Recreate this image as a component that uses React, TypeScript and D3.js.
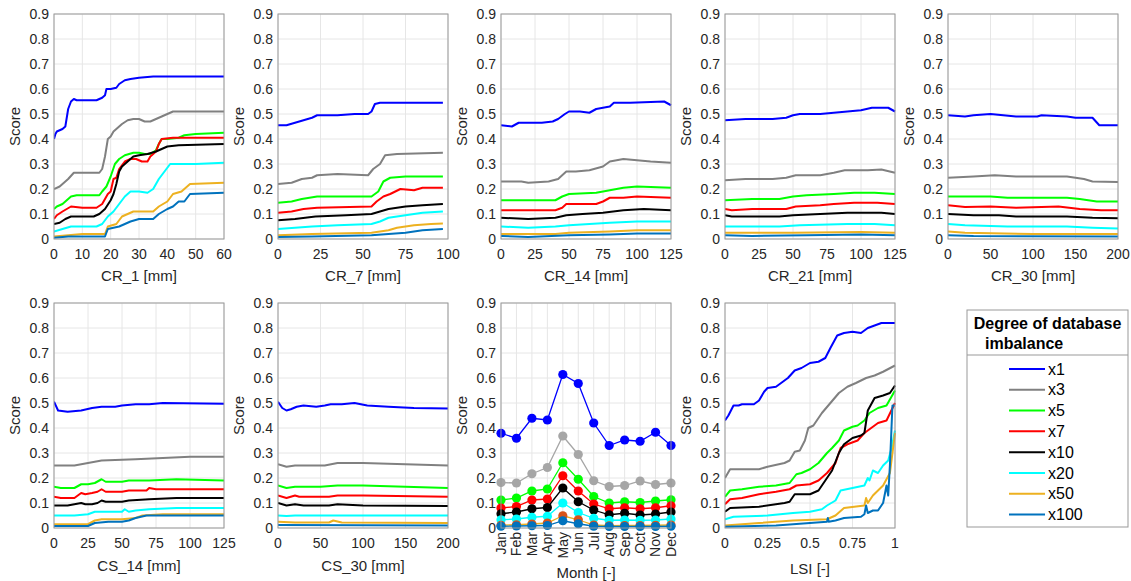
import React from 'react';
import * as d3 from 'd3';

type P = [number, number][];

const SERIES = ['x1', 'x3', 'x5', 'x7', 'x10', 'x20', 'x50', 'x100'];
const COLORS = ['#0000FF', '#808080', '#00FF00', '#FF0000', '#000000', '#00FFFF', '#EDB120', '#0072BD'];
const MARKER_COLORS = ['#0000FF', '#A6A6A6', '#00FF00', '#FF0000', '#000000', '#00FFFF', '#D95319', '#0072BD'];
const Y_TICKS = [0, 0.1, 0.2, 0.3, 0.4, 0.5, 0.6, 0.7, 0.8, 0.9];
const MONTHS = ['Jan', 'Feb', 'Mar', 'Apr', 'May', 'Jun', 'Jul', 'Aug', 'Sep', 'Oct', 'Nov', 'Dec'];

// CR_1 [mm]
const CR1: P[] = [
  [[0, 0.40], [0.5, 0.42], [1, 0.43], [3, 0.44], [4, 0.45], [5, 0.52], [6, 0.55], [7, 0.56], [8, 0.555], [15, 0.555], [17, 0.565], [18, 0.575], [18.5, 0.60], [20, 0.60], [22, 0.605], [23, 0.62], [25, 0.635], [27, 0.64], [30, 0.645], [35, 0.65], [60, 0.65]],
  [[0, 0.20], [2, 0.21], [5, 0.24], [7, 0.265], [16, 0.265], [17, 0.28], [18, 0.33], [19, 0.40], [20, 0.41], [21, 0.43], [22, 0.44], [24, 0.46], [26, 0.475], [28, 0.48], [30, 0.48], [32, 0.47], [34, 0.47], [36, 0.48], [38, 0.49], [40, 0.50], [42, 0.51], [60, 0.51]],
  [[0, 0.12], [1, 0.13], [3, 0.14], [6, 0.17], [8, 0.175], [16, 0.175], [17, 0.19], [18.5, 0.21], [20, 0.25], [21.5, 0.30], [23, 0.32], [25, 0.335], [28, 0.345], [30, 0.345], [32, 0.34], [34, 0.34], [36, 0.355], [37, 0.38], [38, 0.40], [40, 0.40], [44, 0.405], [46, 0.415], [50, 0.42], [60, 0.425]],
  [[0, 0.08], [1, 0.095], [3, 0.11], [6, 0.13], [10, 0.125], [15, 0.125], [17, 0.14], [19, 0.18], [20, 0.19], [21, 0.24], [22, 0.245], [23, 0.28], [25, 0.31], [27, 0.32], [29, 0.32], [31, 0.31], [33, 0.31], [34, 0.33], [36, 0.35], [37, 0.38], [38, 0.40], [42, 0.405], [60, 0.405]],
  [[0, 0.06], [2, 0.065], [4, 0.08], [6, 0.09], [14, 0.09], [16, 0.10], [18, 0.12], [20, 0.155], [21, 0.18], [22, 0.22], [23, 0.27], [24, 0.29], [26, 0.31], [28, 0.33], [30, 0.335], [33, 0.34], [36, 0.35], [38, 0.36], [40, 0.37], [44, 0.375], [60, 0.38]],
  [[0, 0.03], [3, 0.04], [6, 0.05], [15, 0.05], [17, 0.06], [19, 0.09], [21, 0.11], [23, 0.14], [25, 0.17], [27, 0.19], [30, 0.19], [33, 0.185], [35, 0.20], [37, 0.24], [39, 0.27], [41, 0.30], [50, 0.30], [60, 0.305]],
  [[0, 0.01], [5, 0.015], [10, 0.02], [18, 0.02], [19, 0.05], [22, 0.06], [24, 0.09], [26, 0.10], [28, 0.11], [35, 0.11], [37, 0.13], [40, 0.15], [42, 0.18], [45, 0.19], [48, 0.22], [60, 0.225]],
  [[0, 0.005], [5, 0.01], [18, 0.01], [19, 0.04], [23, 0.05], [25, 0.06], [27, 0.07], [30, 0.08], [35, 0.08], [37, 0.10], [40, 0.12], [42, 0.13], [44, 0.15], [46, 0.15], [48, 0.18], [60, 0.185]],
];

// CR_7 [mm]
const CR7: P[] = [
  [[0, 0.455], [5, 0.455], [10, 0.465], [15, 0.475], [20, 0.485], [23, 0.495], [35, 0.495], [45, 0.50], [53, 0.50], [55, 0.51], [57, 0.54], [60, 0.545], [97, 0.545]],
  [[0, 0.22], [8, 0.225], [14, 0.24], [20, 0.245], [23, 0.255], [35, 0.26], [53, 0.255], [56, 0.28], [60, 0.30], [63, 0.335], [70, 0.34], [97, 0.345]],
  [[0, 0.145], [8, 0.15], [14, 0.16], [23, 0.17], [55, 0.17], [59, 0.19], [62, 0.23], [66, 0.245], [75, 0.25], [97, 0.25]],
  [[0, 0.105], [8, 0.11], [15, 0.12], [23, 0.125], [55, 0.13], [58, 0.15], [62, 0.17], [66, 0.18], [72, 0.20], [80, 0.195], [85, 0.205], [97, 0.205]],
  [[0, 0.075], [10, 0.08], [22, 0.09], [40, 0.095], [55, 0.10], [60, 0.11], [65, 0.12], [75, 0.13], [85, 0.135], [97, 0.14]],
  [[0, 0.04], [10, 0.045], [20, 0.05], [35, 0.055], [55, 0.06], [60, 0.07], [65, 0.085], [75, 0.095], [85, 0.105], [97, 0.11]],
  [[0, 0.015], [20, 0.02], [55, 0.025], [65, 0.035], [70, 0.045], [80, 0.055], [90, 0.06], [97, 0.062]],
  [[0, 0.008], [20, 0.01], [55, 0.015], [65, 0.02], [75, 0.025], [85, 0.035], [97, 0.04]],
];

// CR_14 [mm]
const CR14: P[] = [
  [[0, 0.455], [8, 0.45], [13, 0.465], [30, 0.465], [38, 0.47], [42, 0.48], [47, 0.50], [50, 0.51], [58, 0.51], [65, 0.505], [70, 0.52], [75, 0.525], [80, 0.53], [83, 0.545], [95, 0.545], [120, 0.55], [125, 0.535]],
  [[0, 0.23], [15, 0.23], [20, 0.225], [35, 0.23], [42, 0.24], [48, 0.27], [55, 0.27], [65, 0.275], [75, 0.29], [80, 0.31], [90, 0.32], [100, 0.315], [110, 0.31], [125, 0.305]],
  [[0, 0.155], [40, 0.155], [45, 0.17], [50, 0.18], [70, 0.185], [80, 0.195], [90, 0.205], [100, 0.21], [125, 0.205]],
  [[0, 0.115], [40, 0.115], [45, 0.125], [48, 0.14], [70, 0.14], [75, 0.15], [80, 0.165], [90, 0.165], [100, 0.17], [125, 0.165]],
  [[0, 0.085], [20, 0.08], [40, 0.085], [48, 0.095], [60, 0.10], [75, 0.105], [90, 0.115], [105, 0.12], [125, 0.115]],
  [[0, 0.05], [20, 0.045], [40, 0.05], [50, 0.055], [65, 0.06], [80, 0.065], [100, 0.07], [125, 0.07]],
  [[0, 0.02], [40, 0.02], [50, 0.025], [80, 0.03], [100, 0.035], [125, 0.035]],
  [[0, 0.012], [20, 0.008], [50, 0.015], [80, 0.018], [100, 0.022], [125, 0.022]],
];

// CR_21 [mm]
const CR21: P[] = [
  [[0, 0.475], [15, 0.48], [35, 0.48], [45, 0.485], [50, 0.495], [55, 0.50], [70, 0.50], [80, 0.505], [90, 0.51], [100, 0.515], [108, 0.525], [120, 0.525], [125, 0.51]],
  [[0, 0.235], [15, 0.24], [35, 0.24], [45, 0.245], [52, 0.255], [70, 0.255], [80, 0.265], [88, 0.275], [105, 0.275], [115, 0.278], [125, 0.265]],
  [[0, 0.155], [20, 0.16], [40, 0.16], [50, 0.17], [60, 0.175], [80, 0.18], [95, 0.185], [110, 0.185], [125, 0.18]],
  [[0, 0.12], [5, 0.115], [20, 0.12], [45, 0.12], [52, 0.13], [70, 0.135], [80, 0.14], [95, 0.145], [112, 0.145], [125, 0.14]],
  [[0, 0.095], [5, 0.09], [40, 0.09], [50, 0.095], [70, 0.10], [90, 0.105], [115, 0.105], [125, 0.10]],
  [[0, 0.05], [40, 0.05], [55, 0.055], [90, 0.06], [110, 0.06], [125, 0.055]],
  [[0, 0.025], [50, 0.025], [100, 0.028], [125, 0.025]],
  [[0, 0.015], [20, 0.012], [60, 0.015], [100, 0.018], [125, 0.015]],
];

// CR_30 [mm]
const CR30: P[] = [
  [[0, 0.495], [20, 0.49], [30, 0.495], [50, 0.50], [65, 0.495], [80, 0.49], [105, 0.49], [110, 0.495], [140, 0.49], [150, 0.485], [170, 0.485], [178, 0.455], [200, 0.455]],
  [[0, 0.245], [30, 0.25], [55, 0.255], [80, 0.25], [140, 0.25], [160, 0.24], [170, 0.23], [200, 0.228]],
  [[0, 0.17], [50, 0.17], [70, 0.165], [140, 0.165], [155, 0.16], [175, 0.15], [200, 0.15]],
  [[0, 0.135], [20, 0.128], [50, 0.13], [80, 0.125], [130, 0.13], [155, 0.12], [180, 0.115], [200, 0.115]],
  [[0, 0.10], [30, 0.095], [60, 0.095], [80, 0.09], [140, 0.09], [170, 0.085], [200, 0.083]],
  [[0, 0.06], [20, 0.055], [70, 0.05], [140, 0.05], [170, 0.045], [200, 0.042]],
  [[0, 0.03], [20, 0.025], [100, 0.02], [200, 0.02]],
  [[0, 0.015], [30, 0.012], [200, 0.01]],
];

// CS_14 [mm]
const CS14: P[] = [
  [[0, 0.505], [3, 0.47], [10, 0.465], [20, 0.47], [28, 0.48], [35, 0.485], [45, 0.485], [50, 0.49], [60, 0.495], [70, 0.495], [80, 0.50], [125, 0.497]],
  [[0, 0.25], [15, 0.25], [25, 0.26], [35, 0.27], [60, 0.275], [80, 0.28], [100, 0.285], [125, 0.285]],
  [[0, 0.165], [5, 0.16], [15, 0.16], [20, 0.175], [25, 0.175], [30, 0.18], [35, 0.195], [38, 0.185], [50, 0.185], [55, 0.19], [70, 0.19], [90, 0.195], [125, 0.19]],
  [[0, 0.125], [5, 0.12], [15, 0.12], [20, 0.14], [23, 0.135], [28, 0.14], [32, 0.145], [35, 0.155], [38, 0.145], [50, 0.145], [55, 0.15], [68, 0.15], [70, 0.16], [75, 0.155], [125, 0.155]],
  [[0, 0.09], [10, 0.09], [15, 0.095], [20, 0.10], [23, 0.095], [28, 0.095], [32, 0.10], [35, 0.11], [38, 0.105], [50, 0.105], [55, 0.11], [70, 0.115], [90, 0.12], [125, 0.12]],
  [[0, 0.05], [15, 0.05], [25, 0.055], [30, 0.065], [50, 0.065], [52, 0.075], [55, 0.065], [60, 0.07], [70, 0.075], [90, 0.08], [125, 0.08]],
  [[0, 0.015], [25, 0.015], [30, 0.03], [35, 0.035], [50, 0.035], [60, 0.04], [65, 0.05], [80, 0.055], [125, 0.055]],
  [[0, 0.008], [25, 0.008], [30, 0.02], [40, 0.025], [50, 0.025], [55, 0.03], [60, 0.04], [68, 0.05], [125, 0.05]],
];

// CS_30 [mm]
const CS30: P[] = [
  [[0, 0.505], [5, 0.48], [10, 0.47], [15, 0.475], [22, 0.485], [30, 0.49], [45, 0.485], [55, 0.49], [62, 0.495], [75, 0.495], [90, 0.50], [105, 0.49], [130, 0.485], [160, 0.48], [200, 0.478]],
  [[0, 0.255], [10, 0.245], [20, 0.25], [55, 0.25], [70, 0.26], [100, 0.26], [150, 0.255], [200, 0.25]],
  [[0, 0.17], [10, 0.16], [20, 0.165], [50, 0.165], [70, 0.17], [100, 0.17], [150, 0.165], [200, 0.16]],
  [[0, 0.13], [10, 0.12], [20, 0.13], [25, 0.125], [60, 0.125], [70, 0.13], [100, 0.13], [200, 0.125]],
  [[0, 0.10], [10, 0.09], [20, 0.095], [30, 0.09], [60, 0.09], [70, 0.095], [100, 0.09], [200, 0.088]],
  [[0, 0.05], [10, 0.048], [20, 0.05], [200, 0.05]],
  [[0, 0.025], [20, 0.022], [60, 0.022], [65, 0.03], [75, 0.022], [200, 0.02]],
  [[0, 0.012], [200, 0.01]],
];

// Month [-]
const MONTH_X1 = [0.379, 0.359, 0.439, 0.432, 0.614, 0.578, 0.42, 0.33, 0.352, 0.347, 0.383, 0.33];
const MONTH_X3 = [0.182, 0.18, 0.217, 0.242, 0.368, 0.294, 0.189, 0.166, 0.17, 0.188, 0.174, 0.18];
const MONTH_X5 = [0.112, 0.12, 0.148, 0.156, 0.261, 0.195, 0.126, 0.1, 0.105, 0.102, 0.108, 0.113];
const MONTH_X7 = [0.08, 0.086, 0.112, 0.116, 0.209, 0.148, 0.096, 0.077, 0.081, 0.077, 0.081, 0.089];
const MONTH_X10 = [0.057, 0.064, 0.077, 0.082, 0.16, 0.105, 0.072, 0.053, 0.059, 0.052, 0.056, 0.064];
const MONTH_X20 = [0.033, 0.036, 0.043, 0.047, 0.1, 0.062, 0.039, 0.031, 0.032, 0.031, 0.032, 0.036];
const MONTH_X50 = [0.011, 0.013, 0.016, 0.02, 0.049, 0.033, 0.012, 0.009, 0.01, 0.01, 0.011, 0.012];
const MONTH_X100 = [0.007, 0.008, 0.009, 0.01, 0.029, 0.017, 0.007, 0.006, 0.006, 0.006, 0.006, 0.007];
const MONTH_SERIES = [MONTH_X1, MONTH_X3, MONTH_X5, MONTH_X7, MONTH_X10, MONTH_X20, MONTH_X50, MONTH_X100];

// LSI [-]
const LSI: P[] = [
  [[0, 0.43], [0.02, 0.45], [0.05, 0.49], [0.08, 0.49], [0.1, 0.495], [0.17, 0.495], [0.2, 0.51], [0.23, 0.545], [0.25, 0.56], [0.3, 0.565], [0.33, 0.58], [0.37, 0.60], [0.41, 0.63], [0.45, 0.64], [0.5, 0.66], [0.55, 0.665], [0.59, 0.68], [0.62, 0.72], [0.66, 0.77], [0.7, 0.78], [0.75, 0.785], [0.8, 0.78], [0.84, 0.80], [0.88, 0.81], [0.92, 0.82], [1, 0.82]],
  [[0, 0.20], [0.03, 0.235], [0.1, 0.235], [0.2, 0.235], [0.25, 0.245], [0.35, 0.26], [0.38, 0.27], [0.41, 0.305], [0.44, 0.31], [0.47, 0.35], [0.49, 0.40], [0.52, 0.41], [0.57, 0.46], [0.62, 0.50], [0.67, 0.54], [0.72, 0.565], [0.77, 0.58], [0.83, 0.60], [0.88, 0.61], [0.93, 0.625], [1, 0.65]],
  [[0, 0.125], [0.03, 0.15], [0.1, 0.155], [0.2, 0.165], [0.3, 0.17], [0.38, 0.18], [0.42, 0.215], [0.45, 0.22], [0.5, 0.235], [0.55, 0.26], [0.6, 0.30], [0.63, 0.32], [0.67, 0.35], [0.7, 0.39], [0.75, 0.405], [0.78, 0.41], [0.82, 0.43], [0.85, 0.46], [0.9, 0.48], [0.95, 0.49], [1, 0.55]],
  [[0, 0.095], [0.03, 0.115], [0.1, 0.12], [0.2, 0.135], [0.3, 0.145], [0.38, 0.155], [0.42, 0.17], [0.5, 0.175], [0.55, 0.19], [0.6, 0.22], [0.65, 0.26], [0.68, 0.32], [0.72, 0.335], [0.78, 0.35], [0.82, 0.38], [0.86, 0.40], [0.9, 0.42], [0.95, 0.43], [1, 0.50]],
  [[0, 0.065], [0.03, 0.08], [0.2, 0.085], [0.35, 0.10], [0.38, 0.105], [0.41, 0.135], [0.5, 0.135], [0.55, 0.15], [0.6, 0.20], [0.63, 0.23], [0.67, 0.30], [0.7, 0.335], [0.75, 0.36], [0.8, 0.37], [0.82, 0.38], [0.84, 0.47], [0.88, 0.52], [0.93, 0.53], [0.97, 0.54], [1, 0.57]],
  [[0, 0.035], [0.05, 0.045], [0.25, 0.05], [0.4, 0.06], [0.5, 0.065], [0.57, 0.075], [0.6, 0.09], [0.65, 0.11], [0.68, 0.15], [0.75, 0.16], [0.82, 0.17], [0.84, 0.20], [0.85, 0.19], [0.87, 0.23], [0.9, 0.22], [0.93, 0.25], [0.96, 0.27], [0.98, 0.32], [1, 0.39]],
  [[0, 0.01], [0.2, 0.02], [0.4, 0.03], [0.6, 0.035], [0.65, 0.05], [0.7, 0.08], [0.82, 0.09], [0.83, 0.12], [0.84, 0.10], [0.87, 0.13], [0.9, 0.15], [0.93, 0.17], [0.97, 0.22], [1, 0.38]],
  [[0, 0.005], [0.3, 0.01], [0.5, 0.02], [0.6, 0.025], [0.605, 0.04], [0.61, 0.025], [0.65, 0.03], [0.7, 0.04], [0.8, 0.045], [0.82, 0.055], [0.83, 0.09], [0.84, 0.06], [0.87, 0.07], [0.9, 0.07], [0.93, 0.10], [0.95, 0.17], [0.96, 0.13], [0.97, 0.25], [0.985, 0.49], [1, 0.49]],
];

const FONT = '"Liberation Sans", Arial, Helvetica, sans-serif';
const TEXT = '#262626';
const AXIS = '#999999';
const GRID = '#e6e6e6';
const PW = 170;
const PH = 225;

type Panel = {
  label: string;
  data?: P[];
  monthly?: boolean;
  domain: [number, number];
  ticks: number[];
  left: number;
  top: number;
  labelOffset: number;
};

const PANELS: Panel[] = [
  { label: 'CR_1 [mm]', data: CR1, domain: [0, 60], ticks: [0, 10, 20, 30, 40, 50, 60], left: 54, top: 14, labelOffset: 42 },
  { label: 'CR_7 [mm]', data: CR7, domain: [0, 100], ticks: [0, 25, 50, 75, 100], left: 278, top: 14, labelOffset: 42 },
  { label: 'CR_14 [mm]', data: CR14, domain: [0, 125], ticks: [0, 25, 50, 75, 100, 125], left: 501, top: 14, labelOffset: 42 },
  { label: 'CR_21 [mm]', data: CR21, domain: [0, 125], ticks: [0, 25, 50, 75, 100, 125], left: 725, top: 14, labelOffset: 42 },
  { label: 'CR_30 [mm]', data: CR30, domain: [0, 200], ticks: [0, 50, 100, 150, 200], left: 948, top: 14, labelOffset: 42 },
  { label: 'CS_14 [mm]', data: CS14, domain: [0, 125], ticks: [0, 25, 50, 75, 100, 125], left: 54, top: 303, labelOffset: 43 },
  { label: 'CS_30 [mm]', data: CS30, domain: [0, 200], ticks: [0, 50, 100, 150, 200], left: 278, top: 303, labelOffset: 43 },
  { label: 'Month [-]', monthly: true, domain: [1, 12], ticks: [1, 2, 3, 4, 5, 6, 7, 8, 9, 10, 11, 12], left: 501, top: 303, labelOffset: 50 },
  { label: 'LSI [-]', data: LSI, domain: [0, 1], ticks: [0, 0.25, 0.5, 0.75, 1], left: 725, top: 303, labelOffset: 46 },
];

function PanelView({ p }: { p: Panel }) {
  const x = d3.scaleLinear().domain(p.domain).range([p.left, p.left + PW]);
  const y = d3.scaleLinear().domain([0, 0.9]).range([p.top + PH, p.top]);
  const bottom = p.top + PH;
  const line = d3.line<[number, number]>().x((d) => x(d[0])).y((d) => y(d[1]));
  const clipId = 'clip-' + p.left + '-' + p.top;
  return (
    <g>
      <defs>
        <clipPath id={clipId}>
          <rect x={p.left} y={p.top - 6} width={PW + 1} height={PH + 12} />
        </clipPath>
      </defs>
      <rect x={p.left} y={p.top} width={PW} height={PH} fill="#fff" />
      {Y_TICKS.map((t) => (
        <line key={'gy' + t} x1={p.left} x2={p.left + PW} y1={y(t)} y2={y(t)} stroke={GRID} strokeWidth={1} />
      ))}
      {p.ticks.map((t) => (
        <line key={'gx' + t} x1={x(t)} x2={x(t)} y1={p.top} y2={bottom} stroke={GRID} strokeWidth={1} />
      ))}
      <g clipPath={`url(#${clipId})`}>
        {p.data &&
          p.data.map((s, i) => (
            <path key={i} d={line(s) || ''} fill="none" stroke={COLORS[i]} strokeWidth={2} strokeLinejoin="round" />
          ))}
      </g>
      {p.monthly &&
        MONTH_SERIES.map((vals, i) => {
          const pts: [number, number][] = vals.map((v, k) => [k + 1, v]);
          return (
            <g key={i}>
              <path d={line(pts) || ''} fill="none" stroke={COLORS[i] === '#808080' ? '#A6A6A6' : COLORS[i]} strokeWidth={1.3} />
              {pts.map((d, k) => (
                <circle key={k} cx={x(d[0])} cy={y(d[1])} r={4.6} fill={MARKER_COLORS[i]} />
              ))}
            </g>
          );
        })}
      <rect x={p.left} y={p.top} width={PW} height={PH} fill="none" stroke={AXIS} strokeWidth={1} />
      {Y_TICKS.map((t) => (
        <text key={'ty' + t} x={p.left - 5} y={y(t)} dy="0.35em" textAnchor="end" fontSize={14} fill={TEXT} fontFamily={FONT}>
          {d3.format('~g')(+t.toFixed(1))}
        </text>
      ))}
      {p.ticks.map((t, k) =>
        p.monthly ? (
          <text key={'tx' + t} transform={`translate(${x(t)},${bottom + 4}) rotate(-90)`} dy="0.35em" textAnchor="end" fontSize={14} fill={TEXT} fontFamily={FONT}>
            {MONTHS[k]}
          </text>
        ) : (
          <text key={'tx' + t} x={x(t)} y={bottom + 20} textAnchor="middle" fontSize={14} fill={TEXT} fontFamily={FONT}>
            {d3.format('~g')(t)}
          </text>
        )
      )}
      <text x={p.left + PW / 2} y={bottom + p.labelOffset} textAnchor="middle" fontSize={15} fill={TEXT} fontFamily={FONT}>
        {p.label}
      </text>
      <text transform={`translate(${p.left - 39},${p.top + PH / 2}) rotate(-90)`} dy="0.35em" textAnchor="middle" fontSize={15} fill={TEXT} fontFamily={FONT}>
        Score
      </text>
    </g>
  );
}

function Legend() {
  const lx = 967;
  const ly = 310;
  const w = 161;
  const h = 217;
  const rowY = d3.scaleLinear().domain([0, 7]).range([369, 514.5]);
  return (
    <g fontFamily={FONT}>
      <rect x={lx} y={ly} width={w} height={h} fill="#fff" stroke={AXIS} strokeWidth={1} />
      <text x={lx + w / 2} y={329} textAnchor="middle" fontSize={16} fontWeight="bold" fill="#000">
        Degree of database
      </text>
      <text x={985} y={349} fontSize={16} fontWeight="bold" fill="#000">
        imbalance
      </text>
      <line x1={lx} x2={lx + w} y1={355} y2={355} stroke={AXIS} strokeWidth={1} />
      {SERIES.map((s, i) => (
        <g key={s}>
          <line x1={1009} x2={1045} y1={rowY(i)} y2={rowY(i)} stroke={COLORS[i]} strokeWidth={2} />
          <text x={1048} y={rowY(i)} dy="0.35em" fontSize={16} fill="#000">
            {s}
          </text>
        </g>
      ))}
    </g>
  );
}

export default function App() {
  return (
    <svg width={1131} height={581} style={{ position: 'absolute', left: 0, top: 0, background: '#fff' }}>
      <rect x={0} y={0} width={1131} height={581} fill="#fff" />
      {PANELS.map((p) => (
        <PanelView key={p.label} p={p} />
      ))}
      <Legend />
    </svg>
  );
}
